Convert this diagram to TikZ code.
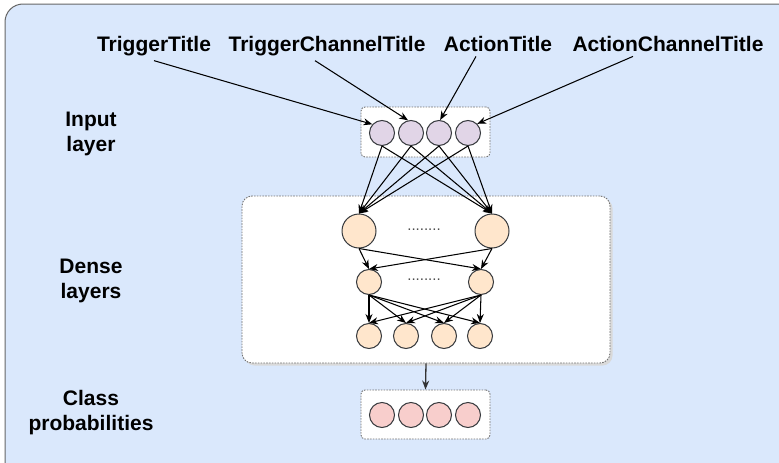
\documentclass[tikz,border=0pt]{standalone}
\usepackage{fontspec}
\setmainfont{Liberation Sans}
\usetikzlibrary{arrows.meta}
\definecolor{bgblue}{HTML}{DAE8FC}
\definecolor{inpurple}{HTML}{E1D5E7}
\definecolor{denseorange}{HTML}{FFE6CC}
\definecolor{outred}{HTML}{F8CECC}
\definecolor{edgegray}{HTML}{36393D}
\begin{document}
\begin{tikzpicture}[x=1pt,y=-1pt,
  neuron/.style={circle,draw=edgegray,line width=1pt,minimum size=25pt,inner sep=0pt},
  bigneuron/.style={neuron,minimum size=34pt},
  layerbox/.style={draw=black!55,dash pattern=on 1.6pt off 1.2pt,fill=white,line width=0.9pt,inner sep=0pt},
  lbl/.style={font=\bfseries\fontsize{21}{25}\selectfont,align=center,inner xsep=2pt,inner ysep=5pt},
  dots/.style={font=\fontsize{15}{15}\selectfont,text=black!70,inner sep=0pt},
  link/.style={-{Stealth[length=9pt,width=7pt]},line width=1.05pt,black},
]
\useasboundingbox (0,0) rectangle (779,463);
\clip (0,0) rectangle (779,463);

% outer panel
\draw[fill=bgblue,draw=black!60,line width=1pt,rounded corners=18pt] (5,4) rectangle (830,520);

% top labels
\node[lbl,anchor=base] (t1) at (154,51) {TriggerTitle};
\node[lbl,anchor=base] (t2) at (327,51) {TriggerChannelTitle};
\node[lbl,anchor=base] (t3) at (498,51) {ActionTitle};
\node[lbl,anchor=base] (t4) at (668,51) {ActionChannelTitle};

% side labels
\node[lbl] (lin) at (91,134) {Input\\layer};
\node[lbl] (lden) at (91,281) {Dense\\layers};
\node[lbl] (lout) at (91,413) {Class\\probabilities};

% layer boxes
\fill[gray!30,rounded corners=10pt] (244.5,198.5) rectangle (612.5,365.5);
\node[layerbox,rounded corners=10pt,minimum width=368pt,minimum height=167pt] (densebox) at (426,279.5) {};
\node[layerbox,rounded corners=4pt,minimum width=129pt,minimum height=50pt] (inbox) at (425.5,132) {};
\node[layerbox,rounded corners=4pt,minimum width=129pt,minimum height=49pt] (outbox) at (425.5,414.5) {};

% input neurons
\node[neuron,fill=inpurple] (in1) at (382,133) {};
\node[neuron,fill=inpurple] (in2) at (411,133) {};
\node[neuron,fill=inpurple] (in3) at (439,133) {};
\node[neuron,fill=inpurple] (in4) at (468,133) {};

% dense neurons
\node[bigneuron,fill=denseorange] (d1) at (359,231) {};
\node[bigneuron,fill=denseorange] (d2) at (492,231) {};
\node[dots] (dotsA) at (424,230) {........};
\node[neuron,fill=denseorange] (m1) at (369,282) {};
\node[neuron,fill=denseorange] (m2) at (481,282) {};
\node[dots] (dotsB) at (424,280) {........};
\node[neuron,fill=denseorange] (b1) at (369,336) {};
\node[neuron,fill=denseorange] (b2) at (406,336) {};
\node[neuron,fill=denseorange] (b3) at (444,336) {};
\node[neuron,fill=denseorange] (b4) at (480,336) {};

% output neurons
\node[neuron,fill=outred] (o1) at (382,415) {};
\node[neuron,fill=outred] (o2) at (411,415) {};
\node[neuron,fill=outred] (o3) at (439,415) {};
\node[neuron,fill=outred] (o4) at (468,415) {};

% feature inputs
\draw[link] (t1.south) -- (in1.138);
\draw[link] ([xshift=-12pt]t2.south) -- (in2.103);
\draw[link] ([xshift=-22pt]t3.south) -- (in3.85);
\draw[link] ([xshift=-35pt]t4.south) -- (in4.45);

% input -> first dense layer
\foreach \i in {1,...,4}{
  \draw[link] (in\i.south) -- (d1.north);
  \draw[link] (in\i.south) -- (d2.north);
}
% first -> second dense layer
\foreach \s in {d1,d2}{
  \draw[link] (\s.south) -- (m1.north);
  \draw[link] (\s.south) -- (m2.north);
}
% second -> third dense layer
\foreach \s in {m1,m2}{
  \foreach \t in {b1,b2,b3,b4}{
    \draw[link] (\s.south) -- (\t.north);
  }
}

% dense block -> class probabilities
\draw[link,draw=black!80,line width=1.3pt] (densebox.south) -- (outbox.north);
\end{tikzpicture}
\end{document}
